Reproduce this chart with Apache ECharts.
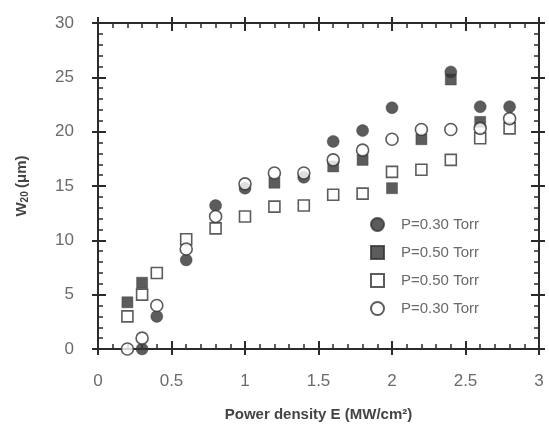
<!DOCTYPE html>
<html>
<head>
<meta charset="utf-8">
<script src="https://cdn.jsdelivr.net/npm/echarts@6/dist/echarts.min.js"></script>
<style>
  html, body { margin: 0; padding: 0; background: #fff; }
  #chart { width: 549px; height: 430px; }
</style>
</head>
<body>
<div id="chart"></div>
<script>
// power density E (MW/cm2) vs W20 (um)
const legendLabels = ['P=0.30 Torr', 'P=0.50 Torr', 'P=0.50 Torr', 'P=0.30 Torr'];

const filledCircleX = [0.3, 0.4, 0.6, 0.8, 1.0, 1.4, 1.6, 1.8, 2.0, 2.4, 2.6, 2.8];
const filledCircleY = [0, 3, 8.2, 13.2, 14.8, 15.8, 19.1, 20.1, 22.2, 25.5, 22.3, 22.3];

const filledSquareX = [0.2, 0.3, 1.2, 1.6, 1.8, 2.0, 2.2, 2.4, 2.6];
const filledSquareY = [4.3, 6.1, 15.3, 16.8, 17.4, 14.8, 19.3, 24.8, 20.9];

const openSquareX = [0.2, 0.3, 0.4, 0.6, 0.8, 1.0, 1.2, 1.4, 1.6, 1.8, 2.0, 2.2, 2.4, 2.6, 2.8];
const openSquareY = [3.0, 5.0, 7.0, 10.1, 11.1, 12.2, 13.1, 13.2, 14.2, 14.3, 16.3, 16.5, 17.4, 19.4, 20.3];

const openCircleX = [0.2, 0.3, 0.4, 0.6, 0.8, 1.0, 1.2, 1.4, 1.6, 1.8, 2.0, 2.2, 2.4, 2.6, 2.8];
const openCircleY = [0, 1.0, 4.0, 9.2, 12.2, 15.2, 16.2, 16.2, 17.4, 18.3, 19.3, 20.2, 20.2, 20.3, 21.2];

const pairs = (xs, ys) => xs.map((x, i) => [x, ys[i]]);

const ink = '#2b2b2b';
const labelColor = '#6a6a6a';
const font = 'Liberation Sans';

function xAxisDef(position, inside, withLabels) {
  return {
    type: 'value', position: position, min: 0, max: 3, interval: 0.5,
    axisLine: { show: true, onZero: false, lineStyle: { color: ink, width: 2 } },
    axisTick: { show: true, inside: inside, length: inside ? 8 : 6, lineStyle: { color: ink, width: 2 } },
    minorTick: { show: inside, splitNumber: 5, length: 5, lineStyle: { color: ink, width: 1.5 } },
    splitLine: { show: false },
    axisLabel: { show: withLabels, margin: 24, color: labelColor, fontSize: 17, fontFamily: font,
      formatter: v => String(v) },
    name: withLabels ? 'Power density E (MW/cm\u00B2)' : '',
    nameLocation: 'middle', nameGap: 58,
    nameTextStyle: { color: '#444', fontSize: 15, fontWeight: 'bold', fontFamily: font }
  };
}

function yAxisDef(position, inside, withLabels) {
  return {
    type: 'value', position: position, min: 0, max: 30, interval: 5,
    axisLine: { show: true, onZero: false, lineStyle: { color: ink, width: 2 } },
    axisTick: { show: true, inside: inside, length: inside ? 8 : 6, lineStyle: { color: ink, width: 2 } },
    minorTick: { show: inside, splitNumber: 5, length: 5, lineStyle: { color: ink, width: 1.5 } },
    splitLine: { show: false },
    axisLabel: { show: withLabels, margin: 24, color: labelColor, fontSize: 17, fontFamily: font },
    name: withLabels ? '{w|W}{s|20} {w|(\u03BCm)}' : '',
    nameLocation: 'middle', nameGap: 68, nameRotate: 90,
    nameTextStyle: { rich: {
      w: { color: '#444', fontSize: 15, fontFamily: font, fontWeight: 'bold' },
      s: { color: '#444', fontSize: 10, fontFamily: font, fontWeight: 'bold', verticalAlign: 'bottom', padding: [6, 0, 0, 0] }
    } }
  };
}

function scatter(name, data, symbol, size, filled) {
  return {
    name: name, type: 'scatter', data: data, symbol: symbol, symbolSize: size,
    xAxisIndex: 0, yAxisIndex: 0,
    itemStyle: filled
      ? { color: '#333', borderColor: '#333', borderWidth: 0.5 }
      : { color: '#fff', borderColor: '#333', borderWidth: 1.6 },
    emphasis: { disabled: true }
  };
}

const chart = echarts.init(document.getElementById('chart'));
chart.setOption({
  animation: false,
  backgroundColor: '#fff',
  grid: { left: 98, right: 10, top: 23, bottom: 81 },
  xAxis: [
    xAxisDef('bottom', false, true),
    xAxisDef('bottom', true, false),
    xAxisDef('top', false, false),
    xAxisDef('top', true, false)
  ],
  yAxis: [
    yAxisDef('left', false, true),
    yAxisDef('left', true, false),
    yAxisDef('right', false, false),
    yAxisDef('right', true, false)
  ],
  legend: {
    orient: 'vertical', left: 365, top: 212, itemGap: 13,
    itemWidth: 13, itemHeight: 13,
    data: ['s1', 's2', 's3', 's4'],
    formatter: name => legendLabels[Number(name.slice(1)) - 1],
    textStyle: { color: labelColor, fontSize: 15, fontFamily: font, padding: [0, 0, 0, 12] },
    selectedMode: false
  },
  series: [
    scatter('s1', pairs(filledCircleX, filledCircleY), 'circle', 12, true),
    scatter('s2', pairs(filledSquareX, filledSquareY), 'rect', 11, true),
    scatter('s3', pairs(openSquareX, openSquareY), 'rect', 11, false),
    scatter('s4', pairs(openCircleX, openCircleY), 'circle', 12, false)
  ]
});
</script>
</body>
</html>
